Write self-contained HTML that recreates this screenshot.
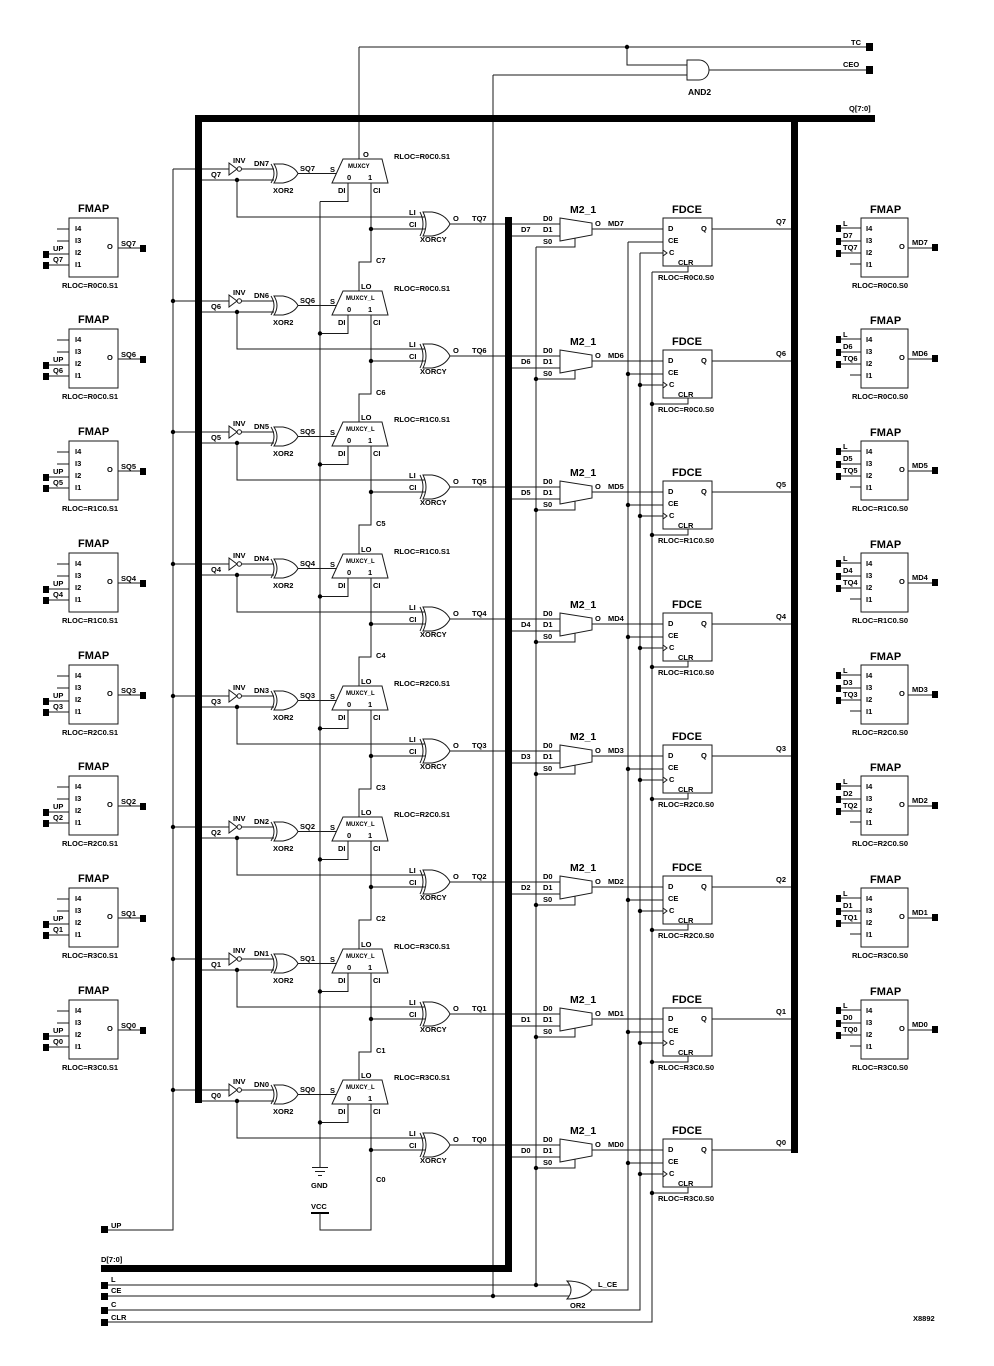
<!DOCTYPE html>
<html><head><meta charset="utf-8"><style>
html,body{margin:0;padding:0;background:#fff;}
svg{display:block;}
.w{fill:none;stroke:#1a1a1a;stroke-width:1;}
.g{fill:#fff;stroke:#1a1a1a;stroke-width:1;}
.n{fill:none;stroke:#1a1a1a;stroke-width:1;}
.b{fill:#000;}
text{font-family:"Liberation Sans",Arial,sans-serif;font-weight:bold;font-size:7.5px;fill:#000;}
.s{font-size:6px;}
.m{font-size:8.5px;}
.l{font-size:11px;}
.k{font-size:10.5px;}
</style></head><body>
<svg width="994" height="1366" viewBox="0 0 994 1366" xmlns="http://www.w3.org/2000/svg">
<rect width="994" height="1366" fill="#fff"/>

<!-- global wires -->
<path class="w" d="M173,169V1230H107M320,201.5V1167M359,47V159M493,75V1296M536,247V1285M628,242V1290H592M640,253V1310H107M652,272V1322H107M107,1285H572M107,1296H572M359,47H866M627,47V65H690M493,75H690M709,70H866"/>
<!-- AND2 -->
<path class="g" d="M687,60H699A10,10 0 0 1 699,80H687Z"/>
<!-- OR2 -->
<path class="g" d="M567,1281Q575,1290 567,1299Q584,1299 592,1290Q584,1281 567,1281Z"/>
<!-- GND / VCC -->
<path class="n" d="M312,1167.5H328M315,1171.5H325M318,1175.5H322"/>
<rect class="b" x="311" y="1212" width="18" height="2"/>

<!-- STAGES -->
<g transform="translate(0,169)">
<path class="w" d="M173,0H229M241.5,0H274M202,11H274M237,11V48H425M348,14V32.5H320M371,60H425M298,4.5H336M450,55H560M371,14V93H359V122M512,67H560M536,78H575V69.5M592,60H663M628,73H663M640,84H663M688,97V103H652M712,60H792"/>
<polygon class="g" points="229,-6 229,6 237,0"/><circle class="g" cx="239.3" cy="0" r="2.2"/>
<path class="g" d="M274,-5Q280,4.5 274,14L283,14Q294,12 298,4.5Q294,-3 283,-5Z"/><path class="n" d="M271,-5Q277,4.5 271,14"/>
<polygon class="g" points="343,-10 382,-10 388,14 332,14"/>
<path class="g" d="M423,43Q429,55 423,67L432,67Q445,65 450,55Q445,45 432,43Z"/><path class="n" d="M420,43Q426,55 420,67"/>
<polygon class="g" points="560,49 592,54 592,66 560,72"/>
<rect class="g" x="663" y="49" width="49" height="48"/><polyline class="n" points="663,81 667,84 663,87"/>
<circle class="b" cx="237" cy="11" r="2.2"/><circle class="b" cx="371" cy="60" r="2.2"/>
<text x="233" y="-6">INV</text><text x="254" y="-3">DN7</text><text x="211" y="8">Q7</text><text x="273" y="24">XOR2</text><text x="300" y="2">SQ7</text><text x="330" y="3">S</text>
<text class="s" x="348" y="-1">MUXCY</text><text x="347" y="11">0</text><text x="368" y="11">1</text><text x="363" y="-12">O</text>
<text x="338" y="24">DI</text><text x="373" y="24">CI</text><text x="394" y="-10">RLOC=R0C0.S1</text>
<text x="409" y="46">LI</text><text x="409" y="58">CI</text><text x="453" y="52">O</text><text x="472" y="52">TQ7</text><text x="420" y="73">XORCY</text><text x="376" y="94">C7</text>
<text x="521" y="63">D7</text><text x="543" y="52">D0</text><text x="543" y="63">D1</text><text x="543" y="75">S0</text>
<text class="k" x="570" y="44">M2_1</text><text x="595" y="57">O</text><text x="608" y="57">MD7</text>
<text class="l" x="672" y="44">FDCE</text><text x="668" y="62">D</text><text x="701" y="62">Q</text><text x="668" y="74">CE</text><text x="669" y="86">C</text><text x="678" y="96">CLR</text>
<text x="776" y="55">Q7</text><text x="658" y="111">RLOC=R0C0.S0</text>
</g>

<g transform="translate(0,301)">
<path class="w" d="M173,0H229M241.5,0H274M202,11H274M237,11V48H425M348,14V32.5H320M371,60H425M298,4.5H336M450,55H560M371,14V93H359V122M512,67H560M536,78H575V69.5M592,60H663M628,73H663M640,84H663M688,97V103H652M712,60H792"/>
<polygon class="g" points="229,-6 229,6 237,0"/><circle class="g" cx="239.3" cy="0" r="2.2"/>
<path class="g" d="M274,-5Q280,4.5 274,14L283,14Q294,12 298,4.5Q294,-3 283,-5Z"/><path class="n" d="M271,-5Q277,4.5 271,14"/>
<polygon class="g" points="343,-10 382,-10 388,14 332,14"/>
<path class="g" d="M423,43Q429,55 423,67L432,67Q445,65 450,55Q445,45 432,43Z"/><path class="n" d="M420,43Q426,55 420,67"/>
<polygon class="g" points="560,49 592,54 592,66 560,72"/>
<rect class="g" x="663" y="49" width="49" height="48"/><polyline class="n" points="663,81 667,84 663,87"/>
<circle class="b" cx="237" cy="11" r="2.2"/><circle class="b" cx="371" cy="60" r="2.2"/>
<circle class="b" cx="173" cy="0" r="2.2"/><circle class="b" cx="320" cy="32.5" r="2.2"/><circle class="b" cx="536" cy="78" r="2.2"/><circle class="b" cx="628" cy="73" r="2.2"/><circle class="b" cx="640" cy="84" r="2.2"/><circle class="b" cx="652" cy="103" r="2.2"/>
<text x="233" y="-6">INV</text><text x="254" y="-3">DN6</text><text x="211" y="8">Q6</text><text x="273" y="24">XOR2</text><text x="300" y="2">SQ6</text><text x="330" y="3">S</text>
<text class="s" x="346" y="-1">MUXCY_L</text><text x="347" y="11">0</text><text x="368" y="11">1</text><text x="361" y="-12">LO</text>
<text x="338" y="24">DI</text><text x="373" y="24">CI</text><text x="394" y="-10">RLOC=R0C0.S1</text>
<text x="409" y="46">LI</text><text x="409" y="58">CI</text><text x="453" y="52">O</text><text x="472" y="52">TQ6</text><text x="420" y="73">XORCY</text><text x="376" y="94">C6</text>
<text x="521" y="63">D6</text><text x="543" y="52">D0</text><text x="543" y="63">D1</text><text x="543" y="75">S0</text>
<text class="k" x="570" y="44">M2_1</text><text x="595" y="57">O</text><text x="608" y="57">MD6</text>
<text class="l" x="672" y="44">FDCE</text><text x="668" y="62">D</text><text x="701" y="62">Q</text><text x="668" y="74">CE</text><text x="669" y="86">C</text><text x="678" y="96">CLR</text>
<text x="776" y="55">Q6</text><text x="658" y="111">RLOC=R0C0.S0</text>
</g>

<g transform="translate(0,432)">
<path class="w" d="M173,0H229M241.5,0H274M202,11H274M237,11V48H425M348,14V32.5H320M371,60H425M298,4.5H336M450,55H560M371,14V93H359V122M512,67H560M536,78H575V69.5M592,60H663M628,73H663M640,84H663M688,97V103H652M712,60H792"/>
<polygon class="g" points="229,-6 229,6 237,0"/><circle class="g" cx="239.3" cy="0" r="2.2"/>
<path class="g" d="M274,-5Q280,4.5 274,14L283,14Q294,12 298,4.5Q294,-3 283,-5Z"/><path class="n" d="M271,-5Q277,4.5 271,14"/>
<polygon class="g" points="343,-10 382,-10 388,14 332,14"/>
<path class="g" d="M423,43Q429,55 423,67L432,67Q445,65 450,55Q445,45 432,43Z"/><path class="n" d="M420,43Q426,55 420,67"/>
<polygon class="g" points="560,49 592,54 592,66 560,72"/>
<rect class="g" x="663" y="49" width="49" height="48"/><polyline class="n" points="663,81 667,84 663,87"/>
<circle class="b" cx="237" cy="11" r="2.2"/><circle class="b" cx="371" cy="60" r="2.2"/>
<circle class="b" cx="173" cy="0" r="2.2"/><circle class="b" cx="320" cy="32.5" r="2.2"/><circle class="b" cx="536" cy="78" r="2.2"/><circle class="b" cx="628" cy="73" r="2.2"/><circle class="b" cx="640" cy="84" r="2.2"/><circle class="b" cx="652" cy="103" r="2.2"/>
<text x="233" y="-6">INV</text><text x="254" y="-3">DN5</text><text x="211" y="8">Q5</text><text x="273" y="24">XOR2</text><text x="300" y="2">SQ5</text><text x="330" y="3">S</text>
<text class="s" x="346" y="-1">MUXCY_L</text><text x="347" y="11">0</text><text x="368" y="11">1</text><text x="361" y="-12">LO</text>
<text x="338" y="24">DI</text><text x="373" y="24">CI</text><text x="394" y="-10">RLOC=R1C0.S1</text>
<text x="409" y="46">LI</text><text x="409" y="58">CI</text><text x="453" y="52">O</text><text x="472" y="52">TQ5</text><text x="420" y="73">XORCY</text><text x="376" y="94">C5</text>
<text x="521" y="63">D5</text><text x="543" y="52">D0</text><text x="543" y="63">D1</text><text x="543" y="75">S0</text>
<text class="k" x="570" y="44">M2_1</text><text x="595" y="57">O</text><text x="608" y="57">MD5</text>
<text class="l" x="672" y="44">FDCE</text><text x="668" y="62">D</text><text x="701" y="62">Q</text><text x="668" y="74">CE</text><text x="669" y="86">C</text><text x="678" y="96">CLR</text>
<text x="776" y="55">Q5</text><text x="658" y="111">RLOC=R1C0.S0</text>
</g>

<g transform="translate(0,564)">
<path class="w" d="M173,0H229M241.5,0H274M202,11H274M237,11V48H425M348,14V32.5H320M371,60H425M298,4.5H336M450,55H560M371,14V93H359V122M512,67H560M536,78H575V69.5M592,60H663M628,73H663M640,84H663M688,97V103H652M712,60H792"/>
<polygon class="g" points="229,-6 229,6 237,0"/><circle class="g" cx="239.3" cy="0" r="2.2"/>
<path class="g" d="M274,-5Q280,4.5 274,14L283,14Q294,12 298,4.5Q294,-3 283,-5Z"/><path class="n" d="M271,-5Q277,4.5 271,14"/>
<polygon class="g" points="343,-10 382,-10 388,14 332,14"/>
<path class="g" d="M423,43Q429,55 423,67L432,67Q445,65 450,55Q445,45 432,43Z"/><path class="n" d="M420,43Q426,55 420,67"/>
<polygon class="g" points="560,49 592,54 592,66 560,72"/>
<rect class="g" x="663" y="49" width="49" height="48"/><polyline class="n" points="663,81 667,84 663,87"/>
<circle class="b" cx="237" cy="11" r="2.2"/><circle class="b" cx="371" cy="60" r="2.2"/>
<circle class="b" cx="173" cy="0" r="2.2"/><circle class="b" cx="320" cy="32.5" r="2.2"/><circle class="b" cx="536" cy="78" r="2.2"/><circle class="b" cx="628" cy="73" r="2.2"/><circle class="b" cx="640" cy="84" r="2.2"/><circle class="b" cx="652" cy="103" r="2.2"/>
<text x="233" y="-6">INV</text><text x="254" y="-3">DN4</text><text x="211" y="8">Q4</text><text x="273" y="24">XOR2</text><text x="300" y="2">SQ4</text><text x="330" y="3">S</text>
<text class="s" x="346" y="-1">MUXCY_L</text><text x="347" y="11">0</text><text x="368" y="11">1</text><text x="361" y="-12">LO</text>
<text x="338" y="24">DI</text><text x="373" y="24">CI</text><text x="394" y="-10">RLOC=R1C0.S1</text>
<text x="409" y="46">LI</text><text x="409" y="58">CI</text><text x="453" y="52">O</text><text x="472" y="52">TQ4</text><text x="420" y="73">XORCY</text><text x="376" y="94">C4</text>
<text x="521" y="63">D4</text><text x="543" y="52">D0</text><text x="543" y="63">D1</text><text x="543" y="75">S0</text>
<text class="k" x="570" y="44">M2_1</text><text x="595" y="57">O</text><text x="608" y="57">MD4</text>
<text class="l" x="672" y="44">FDCE</text><text x="668" y="62">D</text><text x="701" y="62">Q</text><text x="668" y="74">CE</text><text x="669" y="86">C</text><text x="678" y="96">CLR</text>
<text x="776" y="55">Q4</text><text x="658" y="111">RLOC=R1C0.S0</text>
</g>

<g transform="translate(0,696)">
<path class="w" d="M173,0H229M241.5,0H274M202,11H274M237,11V48H425M348,14V32.5H320M371,60H425M298,4.5H336M450,55H560M371,14V93H359V122M512,67H560M536,78H575V69.5M592,60H663M628,73H663M640,84H663M688,97V103H652M712,60H792"/>
<polygon class="g" points="229,-6 229,6 237,0"/><circle class="g" cx="239.3" cy="0" r="2.2"/>
<path class="g" d="M274,-5Q280,4.5 274,14L283,14Q294,12 298,4.5Q294,-3 283,-5Z"/><path class="n" d="M271,-5Q277,4.5 271,14"/>
<polygon class="g" points="343,-10 382,-10 388,14 332,14"/>
<path class="g" d="M423,43Q429,55 423,67L432,67Q445,65 450,55Q445,45 432,43Z"/><path class="n" d="M420,43Q426,55 420,67"/>
<polygon class="g" points="560,49 592,54 592,66 560,72"/>
<rect class="g" x="663" y="49" width="49" height="48"/><polyline class="n" points="663,81 667,84 663,87"/>
<circle class="b" cx="237" cy="11" r="2.2"/><circle class="b" cx="371" cy="60" r="2.2"/>
<circle class="b" cx="173" cy="0" r="2.2"/><circle class="b" cx="320" cy="32.5" r="2.2"/><circle class="b" cx="536" cy="78" r="2.2"/><circle class="b" cx="628" cy="73" r="2.2"/><circle class="b" cx="640" cy="84" r="2.2"/><circle class="b" cx="652" cy="103" r="2.2"/>
<text x="233" y="-6">INV</text><text x="254" y="-3">DN3</text><text x="211" y="8">Q3</text><text x="273" y="24">XOR2</text><text x="300" y="2">SQ3</text><text x="330" y="3">S</text>
<text class="s" x="346" y="-1">MUXCY_L</text><text x="347" y="11">0</text><text x="368" y="11">1</text><text x="361" y="-12">LO</text>
<text x="338" y="24">DI</text><text x="373" y="24">CI</text><text x="394" y="-10">RLOC=R2C0.S1</text>
<text x="409" y="46">LI</text><text x="409" y="58">CI</text><text x="453" y="52">O</text><text x="472" y="52">TQ3</text><text x="420" y="73">XORCY</text><text x="376" y="94">C3</text>
<text x="521" y="63">D3</text><text x="543" y="52">D0</text><text x="543" y="63">D1</text><text x="543" y="75">S0</text>
<text class="k" x="570" y="44">M2_1</text><text x="595" y="57">O</text><text x="608" y="57">MD3</text>
<text class="l" x="672" y="44">FDCE</text><text x="668" y="62">D</text><text x="701" y="62">Q</text><text x="668" y="74">CE</text><text x="669" y="86">C</text><text x="678" y="96">CLR</text>
<text x="776" y="55">Q3</text><text x="658" y="111">RLOC=R2C0.S0</text>
</g>

<g transform="translate(0,827)">
<path class="w" d="M173,0H229M241.5,0H274M202,11H274M237,11V48H425M348,14V32.5H320M371,60H425M298,4.5H336M450,55H560M371,14V93H359V122M512,67H560M536,78H575V69.5M592,60H663M628,73H663M640,84H663M688,97V103H652M712,60H792"/>
<polygon class="g" points="229,-6 229,6 237,0"/><circle class="g" cx="239.3" cy="0" r="2.2"/>
<path class="g" d="M274,-5Q280,4.5 274,14L283,14Q294,12 298,4.5Q294,-3 283,-5Z"/><path class="n" d="M271,-5Q277,4.5 271,14"/>
<polygon class="g" points="343,-10 382,-10 388,14 332,14"/>
<path class="g" d="M423,43Q429,55 423,67L432,67Q445,65 450,55Q445,45 432,43Z"/><path class="n" d="M420,43Q426,55 420,67"/>
<polygon class="g" points="560,49 592,54 592,66 560,72"/>
<rect class="g" x="663" y="49" width="49" height="48"/><polyline class="n" points="663,81 667,84 663,87"/>
<circle class="b" cx="237" cy="11" r="2.2"/><circle class="b" cx="371" cy="60" r="2.2"/>
<circle class="b" cx="173" cy="0" r="2.2"/><circle class="b" cx="320" cy="32.5" r="2.2"/><circle class="b" cx="536" cy="78" r="2.2"/><circle class="b" cx="628" cy="73" r="2.2"/><circle class="b" cx="640" cy="84" r="2.2"/><circle class="b" cx="652" cy="103" r="2.2"/>
<text x="233" y="-6">INV</text><text x="254" y="-3">DN2</text><text x="211" y="8">Q2</text><text x="273" y="24">XOR2</text><text x="300" y="2">SQ2</text><text x="330" y="3">S</text>
<text class="s" x="346" y="-1">MUXCY_L</text><text x="347" y="11">0</text><text x="368" y="11">1</text><text x="361" y="-12">LO</text>
<text x="338" y="24">DI</text><text x="373" y="24">CI</text><text x="394" y="-10">RLOC=R2C0.S1</text>
<text x="409" y="46">LI</text><text x="409" y="58">CI</text><text x="453" y="52">O</text><text x="472" y="52">TQ2</text><text x="420" y="73">XORCY</text><text x="376" y="94">C2</text>
<text x="521" y="63">D2</text><text x="543" y="52">D0</text><text x="543" y="63">D1</text><text x="543" y="75">S0</text>
<text class="k" x="570" y="44">M2_1</text><text x="595" y="57">O</text><text x="608" y="57">MD2</text>
<text class="l" x="672" y="44">FDCE</text><text x="668" y="62">D</text><text x="701" y="62">Q</text><text x="668" y="74">CE</text><text x="669" y="86">C</text><text x="678" y="96">CLR</text>
<text x="776" y="55">Q2</text><text x="658" y="111">RLOC=R2C0.S0</text>
</g>

<g transform="translate(0,959)">
<path class="w" d="M173,0H229M241.5,0H274M202,11H274M237,11V48H425M348,14V32.5H320M371,60H425M298,4.5H336M450,55H560M371,14V93H359V122M512,67H560M536,78H575V69.5M592,60H663M628,73H663M640,84H663M688,97V103H652M712,60H792"/>
<polygon class="g" points="229,-6 229,6 237,0"/><circle class="g" cx="239.3" cy="0" r="2.2"/>
<path class="g" d="M274,-5Q280,4.5 274,14L283,14Q294,12 298,4.5Q294,-3 283,-5Z"/><path class="n" d="M271,-5Q277,4.5 271,14"/>
<polygon class="g" points="343,-10 382,-10 388,14 332,14"/>
<path class="g" d="M423,43Q429,55 423,67L432,67Q445,65 450,55Q445,45 432,43Z"/><path class="n" d="M420,43Q426,55 420,67"/>
<polygon class="g" points="560,49 592,54 592,66 560,72"/>
<rect class="g" x="663" y="49" width="49" height="48"/><polyline class="n" points="663,81 667,84 663,87"/>
<circle class="b" cx="237" cy="11" r="2.2"/><circle class="b" cx="371" cy="60" r="2.2"/>
<circle class="b" cx="173" cy="0" r="2.2"/><circle class="b" cx="320" cy="32.5" r="2.2"/><circle class="b" cx="536" cy="78" r="2.2"/><circle class="b" cx="628" cy="73" r="2.2"/><circle class="b" cx="640" cy="84" r="2.2"/><circle class="b" cx="652" cy="103" r="2.2"/>
<text x="233" y="-6">INV</text><text x="254" y="-3">DN1</text><text x="211" y="8">Q1</text><text x="273" y="24">XOR2</text><text x="300" y="2">SQ1</text><text x="330" y="3">S</text>
<text class="s" x="346" y="-1">MUXCY_L</text><text x="347" y="11">0</text><text x="368" y="11">1</text><text x="361" y="-12">LO</text>
<text x="338" y="24">DI</text><text x="373" y="24">CI</text><text x="394" y="-10">RLOC=R3C0.S1</text>
<text x="409" y="46">LI</text><text x="409" y="58">CI</text><text x="453" y="52">O</text><text x="472" y="52">TQ1</text><text x="420" y="73">XORCY</text><text x="376" y="94">C1</text>
<text x="521" y="63">D1</text><text x="543" y="52">D0</text><text x="543" y="63">D1</text><text x="543" y="75">S0</text>
<text class="k" x="570" y="44">M2_1</text><text x="595" y="57">O</text><text x="608" y="57">MD1</text>
<text class="l" x="672" y="44">FDCE</text><text x="668" y="62">D</text><text x="701" y="62">Q</text><text x="668" y="74">CE</text><text x="669" y="86">C</text><text x="678" y="96">CLR</text>
<text x="776" y="55">Q1</text><text x="658" y="111">RLOC=R3C0.S0</text>
</g>

<g transform="translate(0,1090)">
<path class="w" d="M173,0H229M241.5,0H274M202,11H274M237,11V48H425M348,14V32.5H320M371,60H425M298,4.5H336M450,55H560M371,14V140H320V123M512,67H560M536,78H575V69.5M592,60H663M628,73H663M640,84H663M688,97V103H652M712,60H792"/>
<polygon class="g" points="229,-6 229,6 237,0"/><circle class="g" cx="239.3" cy="0" r="2.2"/>
<path class="g" d="M274,-5Q280,4.5 274,14L283,14Q294,12 298,4.5Q294,-3 283,-5Z"/><path class="n" d="M271,-5Q277,4.5 271,14"/>
<polygon class="g" points="343,-10 382,-10 388,14 332,14"/>
<path class="g" d="M423,43Q429,55 423,67L432,67Q445,65 450,55Q445,45 432,43Z"/><path class="n" d="M420,43Q426,55 420,67"/>
<polygon class="g" points="560,49 592,54 592,66 560,72"/>
<rect class="g" x="663" y="49" width="49" height="48"/><polyline class="n" points="663,81 667,84 663,87"/>
<circle class="b" cx="237" cy="11" r="2.2"/><circle class="b" cx="371" cy="60" r="2.2"/>
<circle class="b" cx="173" cy="0" r="2.2"/><circle class="b" cx="320" cy="32.5" r="2.2"/><circle class="b" cx="536" cy="78" r="2.2"/><circle class="b" cx="628" cy="73" r="2.2"/><circle class="b" cx="640" cy="84" r="2.2"/><circle class="b" cx="652" cy="103" r="2.2"/>
<text x="233" y="-6">INV</text><text x="254" y="-3">DN0</text><text x="211" y="8">Q0</text><text x="273" y="24">XOR2</text><text x="300" y="2">SQ0</text><text x="330" y="3">S</text>
<text class="s" x="346" y="-1">MUXCY_L</text><text x="347" y="11">0</text><text x="368" y="11">1</text><text x="361" y="-12">LO</text>
<text x="338" y="24">DI</text><text x="373" y="24">CI</text><text x="394" y="-10">RLOC=R3C0.S1</text>
<text x="409" y="46">LI</text><text x="409" y="58">CI</text><text x="453" y="52">O</text><text x="472" y="52">TQ0</text><text x="420" y="73">XORCY</text><text x="376" y="92">C0</text>
<text x="521" y="63">D0</text><text x="543" y="52">D0</text><text x="543" y="63">D1</text><text x="543" y="75">S0</text>
<text class="k" x="570" y="44">M2_1</text><text x="595" y="57">O</text><text x="608" y="57">MD0</text>
<text class="l" x="672" y="44">FDCE</text><text x="668" y="62">D</text><text x="701" y="62">Q</text><text x="668" y="74">CE</text><text x="669" y="86">C</text><text x="678" y="96">CLR</text>
<text x="776" y="55">Q0</text><text x="658" y="111">RLOC=R3C0.S0</text>
</g>

<!-- BUSES -->
<rect class="b" x="195" y="115" width="680" height="7"/>
<rect class="b" x="195" y="115" width="7" height="988"/>
<rect class="b" x="791" y="115" width="7" height="1038"/>
<rect class="b" x="505" y="217" width="7" height="1055"/>
<rect class="b" x="101" y="1265" width="411" height="7"/>

<!-- dots global -->
<circle class="b" cx="627" cy="47" r="2.2"/>
<circle class="b" cx="536" cy="1285" r="2.2"/>
<circle class="b" cx="493" cy="1296" r="2.2"/>

<!-- pins -->
<rect class="b" x="866" y="43" width="7" height="8"/>
<rect class="b" x="866" y="66" width="7" height="8"/>
<rect class="b" x="101" y="1226" width="7" height="7"/>
<rect class="b" x="101" y="1282" width="7" height="7"/>
<rect class="b" x="101" y="1293" width="7" height="7"/>
<rect class="b" x="101" y="1307" width="7" height="7"/>
<rect class="b" x="101" y="1319" width="7" height="7"/>

<!-- global text -->
<text x="851" y="45">TC</text>
<text x="843" y="67">CEO</text>
<text x="849" y="111">Q[7:0]</text>
<text class="m" x="688" y="95">AND2</text>
<text x="101" y="1262">D[7:0]</text>
<text x="111" y="1228">UP</text>
<text x="111" y="1282">L</text>
<text x="111" y="1293">CE</text>
<text x="111" y="1307">C</text>
<text x="111" y="1320">CLR</text>
<text x="570" y="1308">OR2</text>
<text x="598" y="1287">L_CE</text>
<text x="311" y="1188">GND</text>
<text x="311" y="1209">VCC</text>
<text x="913" y="1321">X8892</text>

<!-- LEFT FMAPs -->
<g transform="translate(0,218)">
<rect class="g" x="69" y="0" width="49" height="59"/>
<path class="w" d="M57,11H69M57,23H69M49,36H69M49,47H69M118,30H140"/>
<rect class="b" x="43" y="33" width="6" height="7"/><rect class="b" x="43" y="44" width="6" height="7"/><rect class="b" x="140" y="27" width="6" height="7"/>
<text class="l" x="78" y="-6">FMAP</text><text x="75" y="13">I4</text><text x="75" y="25">I3</text><text x="75" y="37">I2</text><text x="75" y="49">I1</text>
<text x="53" y="33">UP</text><text x="53" y="44">Q7</text><text x="107" y="31">O</text><text x="121" y="28">SQ7</text><text x="62" y="70">RLOC=R0C0.S1</text>
</g>
<g transform="translate(0,329)">
<rect class="g" x="69" y="0" width="49" height="59"/>
<path class="w" d="M57,11H69M57,23H69M49,36H69M49,47H69M118,30H140"/>
<rect class="b" x="43" y="33" width="6" height="7"/><rect class="b" x="43" y="44" width="6" height="7"/><rect class="b" x="140" y="27" width="6" height="7"/>
<text class="l" x="78" y="-6">FMAP</text><text x="75" y="13">I4</text><text x="75" y="25">I3</text><text x="75" y="37">I2</text><text x="75" y="49">I1</text>
<text x="53" y="33">UP</text><text x="53" y="44">Q6</text><text x="107" y="31">O</text><text x="121" y="28">SQ6</text><text x="62" y="70">RLOC=R0C0.S1</text>
</g>
<g transform="translate(0,441)">
<rect class="g" x="69" y="0" width="49" height="59"/>
<path class="w" d="M57,11H69M57,23H69M49,36H69M49,47H69M118,30H140"/>
<rect class="b" x="43" y="33" width="6" height="7"/><rect class="b" x="43" y="44" width="6" height="7"/><rect class="b" x="140" y="27" width="6" height="7"/>
<text class="l" x="78" y="-6">FMAP</text><text x="75" y="13">I4</text><text x="75" y="25">I3</text><text x="75" y="37">I2</text><text x="75" y="49">I1</text>
<text x="53" y="33">UP</text><text x="53" y="44">Q5</text><text x="107" y="31">O</text><text x="121" y="28">SQ5</text><text x="62" y="70">RLOC=R1C0.S1</text>
</g>
<g transform="translate(0,553)">
<rect class="g" x="69" y="0" width="49" height="59"/>
<path class="w" d="M57,11H69M57,23H69M49,36H69M49,47H69M118,30H140"/>
<rect class="b" x="43" y="33" width="6" height="7"/><rect class="b" x="43" y="44" width="6" height="7"/><rect class="b" x="140" y="27" width="6" height="7"/>
<text class="l" x="78" y="-6">FMAP</text><text x="75" y="13">I4</text><text x="75" y="25">I3</text><text x="75" y="37">I2</text><text x="75" y="49">I1</text>
<text x="53" y="33">UP</text><text x="53" y="44">Q4</text><text x="107" y="31">O</text><text x="121" y="28">SQ4</text><text x="62" y="70">RLOC=R1C0.S1</text>
</g>
<g transform="translate(0,665)">
<rect class="g" x="69" y="0" width="49" height="59"/>
<path class="w" d="M57,11H69M57,23H69M49,36H69M49,47H69M118,30H140"/>
<rect class="b" x="43" y="33" width="6" height="7"/><rect class="b" x="43" y="44" width="6" height="7"/><rect class="b" x="140" y="27" width="6" height="7"/>
<text class="l" x="78" y="-6">FMAP</text><text x="75" y="13">I4</text><text x="75" y="25">I3</text><text x="75" y="37">I2</text><text x="75" y="49">I1</text>
<text x="53" y="33">UP</text><text x="53" y="44">Q3</text><text x="107" y="31">O</text><text x="121" y="28">SQ3</text><text x="62" y="70">RLOC=R2C0.S1</text>
</g>
<g transform="translate(0,776)">
<rect class="g" x="69" y="0" width="49" height="59"/>
<path class="w" d="M57,11H69M57,23H69M49,36H69M49,47H69M118,30H140"/>
<rect class="b" x="43" y="33" width="6" height="7"/><rect class="b" x="43" y="44" width="6" height="7"/><rect class="b" x="140" y="27" width="6" height="7"/>
<text class="l" x="78" y="-6">FMAP</text><text x="75" y="13">I4</text><text x="75" y="25">I3</text><text x="75" y="37">I2</text><text x="75" y="49">I1</text>
<text x="53" y="33">UP</text><text x="53" y="44">Q2</text><text x="107" y="31">O</text><text x="121" y="28">SQ2</text><text x="62" y="70">RLOC=R2C0.S1</text>
</g>
<g transform="translate(0,888)">
<rect class="g" x="69" y="0" width="49" height="59"/>
<path class="w" d="M57,11H69M57,23H69M49,36H69M49,47H69M118,30H140"/>
<rect class="b" x="43" y="33" width="6" height="7"/><rect class="b" x="43" y="44" width="6" height="7"/><rect class="b" x="140" y="27" width="6" height="7"/>
<text class="l" x="78" y="-6">FMAP</text><text x="75" y="13">I4</text><text x="75" y="25">I3</text><text x="75" y="37">I2</text><text x="75" y="49">I1</text>
<text x="53" y="33">UP</text><text x="53" y="44">Q1</text><text x="107" y="31">O</text><text x="121" y="28">SQ1</text><text x="62" y="70">RLOC=R3C0.S1</text>
</g>
<g transform="translate(0,1000)">
<rect class="g" x="69" y="0" width="49" height="59"/>
<path class="w" d="M57,11H69M57,23H69M49,36H69M49,47H69M118,30H140"/>
<rect class="b" x="43" y="33" width="6" height="7"/><rect class="b" x="43" y="44" width="6" height="7"/><rect class="b" x="140" y="27" width="6" height="7"/>
<text class="l" x="78" y="-6">FMAP</text><text x="75" y="13">I4</text><text x="75" y="25">I3</text><text x="75" y="37">I2</text><text x="75" y="49">I1</text>
<text x="53" y="33">UP</text><text x="53" y="44">Q0</text><text x="107" y="31">O</text><text x="121" y="28">SQ0</text><text x="62" y="70">RLOC=R3C0.S1</text>
</g>

<!-- RIGHT FMAPs -->
<g transform="translate(0,218)">
<rect class="g" x="861" y="0" width="47" height="59"/>
<path class="w" d="M841,10H861M841,23H861M841,35H861M850,46H861M908,30H932"/>
<rect class="b" x="836" y="7" width="5" height="7"/><rect class="b" x="836" y="20" width="5" height="7"/><rect class="b" x="836" y="32" width="5" height="7"/><rect class="b" x="932" y="26" width="6" height="7"/>
<text class="l" x="870" y="-5">FMAP</text><text x="866" y="13">I4</text><text x="866" y="25">I3</text><text x="866" y="37">I2</text><text x="866" y="49">I1</text>
<text x="843" y="8">L</text><text x="843" y="20">D7</text><text x="843" y="32">TQ7</text><text x="899" y="31">O</text><text x="912" y="27">MD7</text><text x="852" y="70">RLOC=R0C0.S0</text>
</g>
<g transform="translate(0,329)">
<rect class="g" x="861" y="0" width="47" height="59"/>
<path class="w" d="M841,10H861M841,23H861M841,35H861M850,46H861M908,30H932"/>
<rect class="b" x="836" y="7" width="5" height="7"/><rect class="b" x="836" y="20" width="5" height="7"/><rect class="b" x="836" y="32" width="5" height="7"/><rect class="b" x="932" y="26" width="6" height="7"/>
<text class="l" x="870" y="-5">FMAP</text><text x="866" y="13">I4</text><text x="866" y="25">I3</text><text x="866" y="37">I2</text><text x="866" y="49">I1</text>
<text x="843" y="8">L</text><text x="843" y="20">D6</text><text x="843" y="32">TQ6</text><text x="899" y="31">O</text><text x="912" y="27">MD6</text><text x="852" y="70">RLOC=R0C0.S0</text>
</g>
<g transform="translate(0,441)">
<rect class="g" x="861" y="0" width="47" height="59"/>
<path class="w" d="M841,10H861M841,23H861M841,35H861M850,46H861M908,30H932"/>
<rect class="b" x="836" y="7" width="5" height="7"/><rect class="b" x="836" y="20" width="5" height="7"/><rect class="b" x="836" y="32" width="5" height="7"/><rect class="b" x="932" y="26" width="6" height="7"/>
<text class="l" x="870" y="-5">FMAP</text><text x="866" y="13">I4</text><text x="866" y="25">I3</text><text x="866" y="37">I2</text><text x="866" y="49">I1</text>
<text x="843" y="8">L</text><text x="843" y="20">D5</text><text x="843" y="32">TQ5</text><text x="899" y="31">O</text><text x="912" y="27">MD5</text><text x="852" y="70">RLOC=R1C0.S0</text>
</g>
<g transform="translate(0,553)">
<rect class="g" x="861" y="0" width="47" height="59"/>
<path class="w" d="M841,10H861M841,23H861M841,35H861M850,46H861M908,30H932"/>
<rect class="b" x="836" y="7" width="5" height="7"/><rect class="b" x="836" y="20" width="5" height="7"/><rect class="b" x="836" y="32" width="5" height="7"/><rect class="b" x="932" y="26" width="6" height="7"/>
<text class="l" x="870" y="-5">FMAP</text><text x="866" y="13">I4</text><text x="866" y="25">I3</text><text x="866" y="37">I2</text><text x="866" y="49">I1</text>
<text x="843" y="8">L</text><text x="843" y="20">D4</text><text x="843" y="32">TQ4</text><text x="899" y="31">O</text><text x="912" y="27">MD4</text><text x="852" y="70">RLOC=R1C0.S0</text>
</g>
<g transform="translate(0,665)">
<rect class="g" x="861" y="0" width="47" height="59"/>
<path class="w" d="M841,10H861M841,23H861M841,35H861M850,46H861M908,30H932"/>
<rect class="b" x="836" y="7" width="5" height="7"/><rect class="b" x="836" y="20" width="5" height="7"/><rect class="b" x="836" y="32" width="5" height="7"/><rect class="b" x="932" y="26" width="6" height="7"/>
<text class="l" x="870" y="-5">FMAP</text><text x="866" y="13">I4</text><text x="866" y="25">I3</text><text x="866" y="37">I2</text><text x="866" y="49">I1</text>
<text x="843" y="8">L</text><text x="843" y="20">D3</text><text x="843" y="32">TQ3</text><text x="899" y="31">O</text><text x="912" y="27">MD3</text><text x="852" y="70">RLOC=R2C0.S0</text>
</g>
<g transform="translate(0,776)">
<rect class="g" x="861" y="0" width="47" height="59"/>
<path class="w" d="M841,10H861M841,23H861M841,35H861M850,46H861M908,30H932"/>
<rect class="b" x="836" y="7" width="5" height="7"/><rect class="b" x="836" y="20" width="5" height="7"/><rect class="b" x="836" y="32" width="5" height="7"/><rect class="b" x="932" y="26" width="6" height="7"/>
<text class="l" x="870" y="-5">FMAP</text><text x="866" y="13">I4</text><text x="866" y="25">I3</text><text x="866" y="37">I2</text><text x="866" y="49">I1</text>
<text x="843" y="8">L</text><text x="843" y="20">D2</text><text x="843" y="32">TQ2</text><text x="899" y="31">O</text><text x="912" y="27">MD2</text><text x="852" y="70">RLOC=R2C0.S0</text>
</g>
<g transform="translate(0,888)">
<rect class="g" x="861" y="0" width="47" height="59"/>
<path class="w" d="M841,10H861M841,23H861M841,35H861M850,46H861M908,30H932"/>
<rect class="b" x="836" y="7" width="5" height="7"/><rect class="b" x="836" y="20" width="5" height="7"/><rect class="b" x="836" y="32" width="5" height="7"/><rect class="b" x="932" y="26" width="6" height="7"/>
<text class="l" x="870" y="-5">FMAP</text><text x="866" y="13">I4</text><text x="866" y="25">I3</text><text x="866" y="37">I2</text><text x="866" y="49">I1</text>
<text x="843" y="8">L</text><text x="843" y="20">D1</text><text x="843" y="32">TQ1</text><text x="899" y="31">O</text><text x="912" y="27">MD1</text><text x="852" y="70">RLOC=R3C0.S0</text>
</g>
<g transform="translate(0,1000)">
<rect class="g" x="861" y="0" width="47" height="59"/>
<path class="w" d="M841,10H861M841,23H861M841,35H861M850,46H861M908,30H932"/>
<rect class="b" x="836" y="7" width="5" height="7"/><rect class="b" x="836" y="20" width="5" height="7"/><rect class="b" x="836" y="32" width="5" height="7"/><rect class="b" x="932" y="26" width="6" height="7"/>
<text class="l" x="870" y="-5">FMAP</text><text x="866" y="13">I4</text><text x="866" y="25">I3</text><text x="866" y="37">I2</text><text x="866" y="49">I1</text>
<text x="843" y="8">L</text><text x="843" y="20">D0</text><text x="843" y="32">TQ0</text><text x="899" y="31">O</text><text x="912" y="27">MD0</text><text x="852" y="70">RLOC=R3C0.S0</text>
</g>
</svg>
</body></html>
